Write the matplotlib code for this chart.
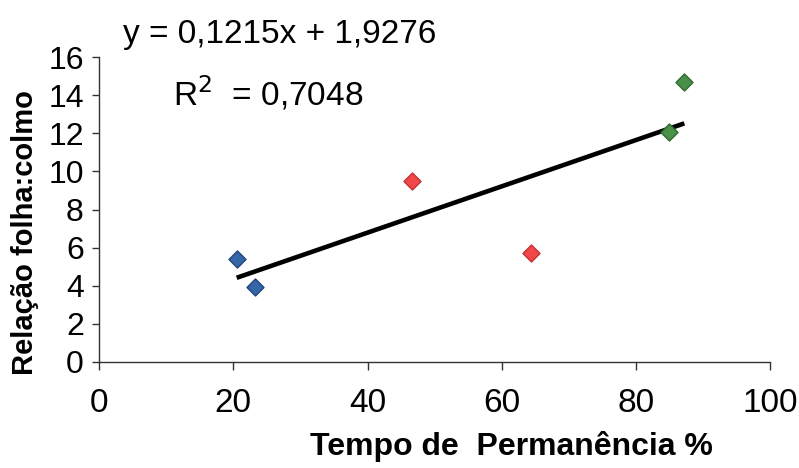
import matplotlib
matplotlib.use("Agg")
import matplotlib.pyplot as plt
import numpy as np

plt.rcParams['font.family'] = ['Liberation Sans', 'DejaVu Sans']

# Data
blue_x = [20.5, 23.2]
blue_y = [5.4, 3.95]
red_x = [46.6, 64.4]
red_y = [9.5, 5.7]
green_x = [84.9, 87.2]
green_y = [12.05, 14.7]
slope = 0.1215
intercept = 1.9276
eq_text = "y = 0,1215x + 1,9276"
r2_text = "R$^2$  = 0,7048"
x_ticks = [0, 20, 40, 60, 80, 100]
y_ticks = [0, 2, 4, 6, 8, 10, 12, 14, 16]

fig = plt.figure(figsize=(7.99, 4.68), dpi=100)
ax = fig.add_axes([0.124, 0.2265, 0.84, 0.6515])

all_x = blue_x + red_x + green_x
tx = np.array([min(all_x), max(all_x)])
ax.plot(tx, slope * tx + intercept, color='black', lw=3.3, zorder=2, solid_capstyle='butt')

mk = dict(marker='D', s=75, linewidths=1.0, zorder=3)
ax.scatter(blue_x, blue_y, color='#3566a8', edgecolors='#23467a', **mk)
ax.scatter(red_x, red_y, color='#f04848', edgecolors='#c83030', **mk)
ax.scatter(green_x, green_y, color='#4a9048', edgecolors='#2f6a30', **mk)

ax.set_xlim(0, 100)
ax.set_ylim(0, 16)
ax.set_xticks(x_ticks)
ax.set_yticks(y_ticks)
for s in ['top', 'right']:
    ax.spines[s].set_visible(False)
ax.spines['left'].set_color('#333333')
ax.spines['bottom'].set_color('#333333')
ax.spines['left'].set_linewidth(1.0)
ax.spines['bottom'].set_linewidth(1.0)
ax.tick_params(axis='x', direction='out', length=6, width=1, pad=13, labelsize=24, colors='#333333', labelcolor='black')
ax.tick_params(axis='y', direction='out', length=5, width=1, pad=6, labelsize=23, colors='#333333', labelcolor='black')

ax.set_xlabel("Tempo de  Permanência %", fontsize=23, fontweight='bold')
ax.xaxis.set_label_coords(0.614, (362 - 447) / 305)
ax.xaxis.label.set_va('center')
ax.set_ylabel("Relação folha:colmo", fontsize=21, fontweight='bold')
ax.yaxis.set_label_coords((25 - 99) / 671, 0.426)
ax.yaxis.label.set_va('center')

fig.text(123 / 799, 1 - 35 / 468, eq_text, fontsize=24, ha='left', va='center')
fig.text(173 / 799, 1 - 93 / 468, r2_text, fontsize=24, ha='left', va='center')

fig.savefig("out.png", dpi=100)
